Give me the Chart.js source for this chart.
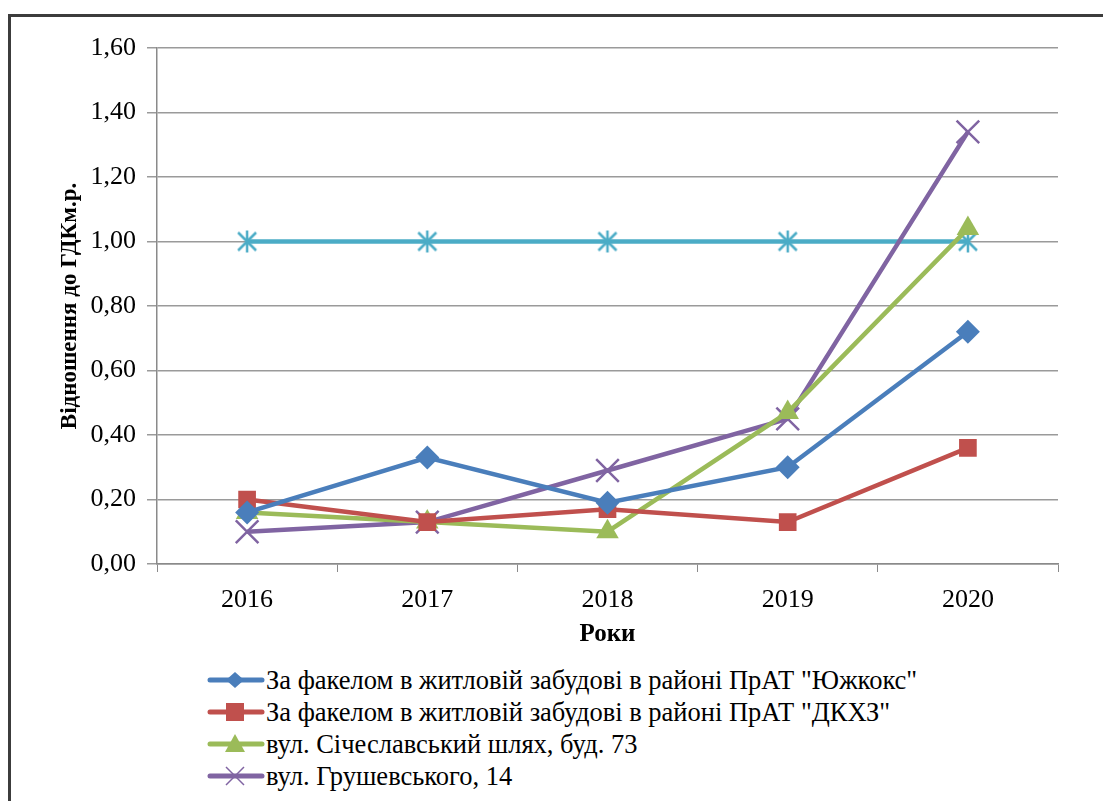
<!DOCTYPE html>
<html>
<head>
<meta charset="utf-8">
<script src="https://cdn.jsdelivr.net/npm/chart.js@4.4.1/dist/chart.umd.min.js"></script>
<style>
    body { margin: 0; background: #fff; width: 1103px; height: 801px; overflow: hidden; position: relative; }
    .frame { position: absolute; left: 8px; top: 14px; width: 1200px; height: 900px;
             border-top: 3px solid #3c3c3c; border-left: 3px solid #3c3c3c; }
    #chart { position: absolute; left: 0; top: 0; }
    .legend { position: absolute; left: 207px; top: 664px; font-family: "Liberation Serif", Times, "DejaVu Serif", serif;
              font-size: 26.5px; color: #000; }
    .legend-row { display: flex; align-items: center; height: 32px; white-space: nowrap; }
    .legend-row svg { margin-right: 1px; }
</style>
</head>
<body>
<div class="frame"></div>
<canvas id="chart" width="1103" height="650"></canvas>
<div class="legend" id="legend"></div>

<script>
const years = ['2016', '2017', '2018', '2019', '2020'];

const yuzhkoks = [0.16, 0.33, 0.19, 0.30, 0.72];
const dkhz = [0.20, 0.13, 0.17, 0.13, 0.36];
const sicheslavskyi = [0.16, 0.13, 0.10, 0.47, 1.04];
const hrushevskoho = [0.10, 0.13, 0.29, 0.45, 1.34];
const gdk = [1.00, 1.00, 1.00, 1.00, 1.00];

const seriesNames = [
    'За факелом в житловій забудові в районі ПрАТ "Южкокс"',
    'За факелом в житловій забудові в районі ПрАТ "ДКХЗ"',
    'вул. Січеславський шлях, буд. 73',
    'вул. Грушевського, 14'
];

const yTicks = [0, 0.2, 0.4, 0.6, 0.8, 1.0, 1.2, 1.4, 1.6];

const colors = {
    blue: '#4A7EBB',
    red: '#C0504D',
    green: '#9BBB59',
    purple: '#8064A2',
    cyan: '#4BACC6'
};

// cyan asterisk marker (x + vertical bar), like the excel one
function makeStar(color) {
    const c = document.createElement('canvas');
    c.width = 24; c.height = 24;
    const ctx = c.getContext('2d');
    ctx.strokeStyle = color;
    ctx.lineWidth = 2.5;
    ctx.beginPath();
    ctx.moveTo(3, 3); ctx.lineTo(21, 21);
    ctx.moveTo(21, 3); ctx.lineTo(3, 21);
    ctx.moveTo(12, 1); ctx.lineTo(12, 23);
    ctx.stroke();
    return c;
}

const serif = '"Liberation Serif", Times, "DejaVu Serif", serif';

const datasets = [
    {
        label: seriesNames[0], data: yuzhkoks,
        borderColor: colors.blue, backgroundColor: colors.blue,
        borderWidth: 4.5, pointStyle: 'rectRot', pointRadius: 12, pointBorderWidth: 0
    },
    {
        label: seriesNames[1], data: dkhz,
        borderColor: colors.red, backgroundColor: colors.red,
        borderWidth: 4.5, pointStyle: 'rect', pointRadius: 12.5, pointBorderWidth: 0
    },
    {
        label: seriesNames[2], data: sicheslavskyi,
        borderColor: colors.green, backgroundColor: colors.green,
        borderWidth: 4.5, pointStyle: 'triangle', pointRadius: 13, pointBorderWidth: 0
    },
    {
        label: seriesNames[3], data: hrushevskoho,
        borderColor: colors.purple, backgroundColor: colors.purple,
        borderWidth: 4.5, pointStyle: 'crossRot', pointRadius: 16, pointBorderWidth: 2.5
    },
    {
        label: 'ГДК', data: gdk,
        borderColor: colors.cyan, backgroundColor: colors.cyan,
        borderWidth: 4.5, pointStyle: makeStar(colors.cyan), pointRadius: 12
    }
];

const ctx = document.getElementById('chart').getContext('2d');
new Chart(ctx, {
    type: 'line',
    data: { labels: years, datasets: datasets },
    options: {
        responsive: false,
        animation: false,
        layout: { padding: { left: 0, top: 48, right: 45, bottom: 0 } },
        plugins: { legend: { display: false }, tooltip: { enabled: false } },
        elements: { line: { tension: 0 } },
        scales: {
            x: {
                offset: true,
                grid: { offset: true, drawOnChartArea: false, tickLength: 8, color: '#8a8a8a' },
                border: { color: '#8a8a8a', width: 1.5 },
                ticks: { color: '#000', padding: 13, font: { family: serif, size: 26 } },
                title: {
                    display: true, text: 'Роки', color: '#000',
                    font: { family: serif, size: 25, weight: 'bold' },
                    padding: { top: 0, bottom: 0 }
                },
                afterFit: scale => { scale.height = 86; }
            },
            y: {
                min: 0, max: 1.6,
                afterBuildTicks: scale => { scale.ticks = yTicks.map(v => ({ value: v })); },
                grid: { tickLength: 10, color: '#9a9a9a', lineWidth: 1.5 },
                border: { color: '#8a8a8a', width: 1.5 },
                ticks: {
                    color: '#000', padding: 11,
                    font: { family: serif, size: 26 },
                    callback: v => v.toFixed(2).replace('.', ',')
                },
                title: {
                    display: true, text: 'Відношення до ГДКм.р.', color: '#000',
                    font: { family: serif, size: 23, weight: 'bold' },
                    padding: { top: 56, bottom: 0 }
                },
                afterFit: scale => { scale.width = 157; }
            }
        }
    }
});

// --- legend (only the four stations, like the original) ---
const markerSvg = {
    0: '<path d="M28 2 L37 10 L28 18 L19 10 Z" fill="' + colors.blue + '"/>',
    1: '<rect x="19" y="1" width="18" height="18" fill="' + colors.red + '"/>',
    2: '<path d="M28 0 L38 18 L18 18 Z" fill="' + colors.green + '"/>',
    3: '<path d="M19 1 L37 19 M37 1 L19 19" stroke="' + colors.purple + '" stroke-width="1.5"/>'
};
const legendColors = [colors.blue, colors.red, colors.green, colors.purple];
const legend = document.getElementById('legend');
seriesNames.forEach((name, i) => {
    const row = document.createElement('div');
    row.className = 'legend-row';
    row.innerHTML = '<svg width="58" height="20"><line x1="3" y1="10" x2="55" y2="10" stroke="' +
        legendColors[i] + '" stroke-width="5" stroke-linecap="round"/>' + markerSvg[i] + '</svg>' +
        '<span></span>';
    row.querySelector('span').textContent = name;
    legend.appendChild(row);
});
</script>
</body>
</html>
